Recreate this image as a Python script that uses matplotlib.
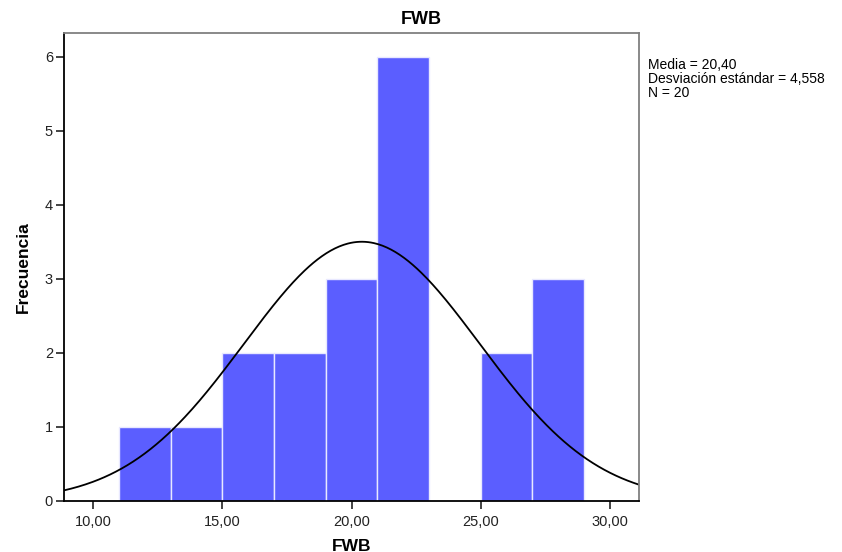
import numpy as np
import matplotlib
matplotlib.use("Agg")
import matplotlib.pyplot as plt

plt.rcParams['font.family'] = ['Liberation Sans', 'DejaVu Sans']

bin_edges = [11, 13, 15, 17, 19, 21, 23, 25, 27, 29]
counts = [1, 1, 2, 2, 3, 6, 0, 2, 3]
mean = 20.40
sd = 4.558
n = 20
xticks = [10, 15, 20, 25, 30]
xtick_labels = ["10,00", "15,00", "20,00", "25,00", "30,00"]
yticks = [0, 1, 2, 3, 4, 5, 6]

fig = plt.figure(figsize=(8.42, 5.52), dpi=100)
ax = fig.add_axes([64/842, 1-501/552, (639-64)/842, (501-33)/552])

lefts = bin_edges[:-1]
widths = np.diff(bin_edges)
ax.bar(lefts, counts, width=widths, align='edge', color='#5b5eff',
       edgecolor='#e8e8ff', linewidth=1.0)

xmin, xmax = 8.88, 31.12
xs = np.linspace(xmin, xmax, 400)
bw = widths[0]
ys = n * bw / (sd * np.sqrt(2*np.pi)) * np.exp(-0.5*((xs-mean)/sd)**2)
ax.plot(xs, ys, color='black', linewidth=1.3)

ax.set_xlim(xmin, xmax)
ax.set_ylim(0, 6.32)
ax.set_xticks(xticks)
ax.set_xticklabels(xtick_labels)
ax.set_yticks(yticks)
ax.tick_params(axis='both', direction='out', length=6, width=1.2, labelsize=10.5, colors='#222222')
ax.tick_params(axis='x', pad=4)
ax.tick_params(axis='y', pad=2)
for s in ['left', 'bottom']:
    ax.spines[s].set_color('black')
    ax.spines[s].set_linewidth(1.3)
for s in ['top', 'right']:
    ax.spines[s].set_color('#808080')
    ax.spines[s].set_linewidth(1.3)

fig.text(0.5, 1-19/552, "FWB", fontsize=13, fontweight='bold', ha='center', va='center')
ax.set_xlabel("FWB", fontsize=12.5, fontweight='bold', labelpad=7)
ax.set_ylabel("Frecuencia", fontsize=12.5, fontweight='bold', labelpad=10)

fig.text(648/842, 1-58/552,
         "Media = 20,40\nDesviación estándar = 4,558\nN = 20",
         fontsize=10, va='top', ha='left', linespacing=1.0)

fig.savefig("out.png", dpi=100)
